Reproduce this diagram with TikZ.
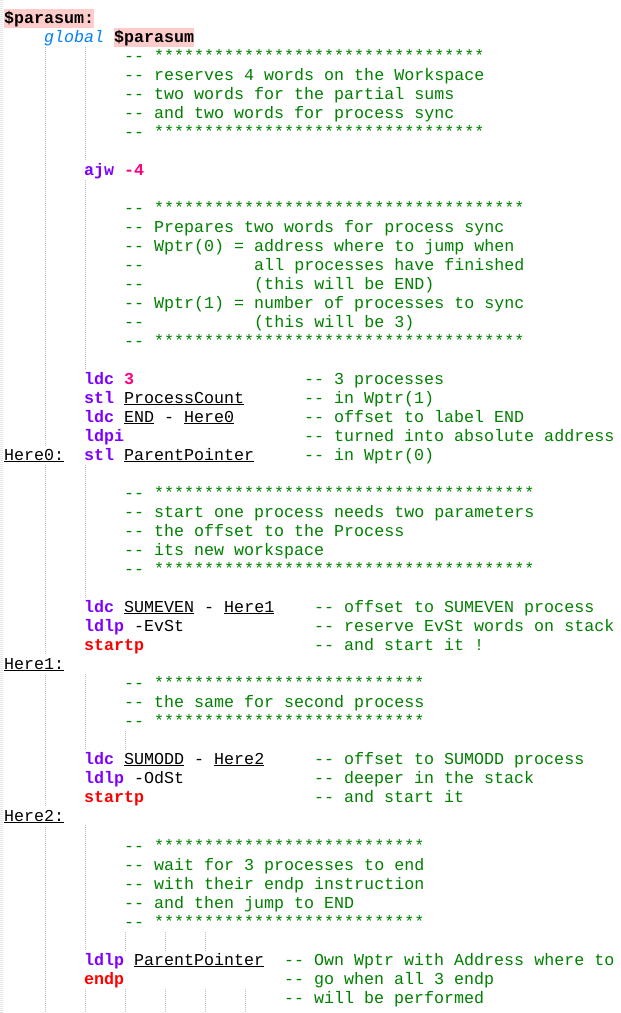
\documentclass[tikz,border=0pt]{standalone}
\usepackage{fontspec}
\setmonofont{Liberation Mono}
\usepackage{tikz}

\definecolor{kwpurple}{RGB}{128,0,255}
\definecolor{numpink}{RGB}{255,0,128}
\definecolor{ctlred}{RGB}{255,0,0}
\definecolor{cmtgreen}{RGB}{0,128,0}
\definecolor{globblue}{RGB}{0,128,255}
\definecolor{hlpink}{RGB}{255,204,204}
\definecolor{guidegray}{RGB}{190,190,190}

\newcommand{\opc}[1]{{\bfseries\color{kwpurple}#1}}
\newcommand{\numc}[1]{{\bfseries\color{numpink}#1}}
\newcommand{\ctlc}[1]{{\bfseries\color{ctlred}#1}}
\newcommand{\idf}[1]{\underline{#1}}
\newcommand{\tenst}{**********}

\begin{document}
\begin{tikzpicture}[
    x=10pt, y=-19pt,
    code/.style={anchor=base west, inner sep=0pt, text height=14pt, text depth=5pt,
        font=\ttfamily\fontsize{16.67pt}{19pt}\selectfont\frenchspacing},
    cmt/.style={code, text=cmtgreen},
    lbl/.style={code, fill=white},
    guide/.style={draw=guidegray, line width=1pt, dash pattern=on 1pt off 1pt}
]
\fill[white] (0pt,0pt) rectangle (621pt,-1013pt);
\useasboundingbox (0pt,0pt) rectangle (621pt,-1013pt);

% Margine e guide di indentazione
\draw[draw=black!10, line width=3pt, dash pattern=on 1pt off 1pt] (1.5pt,0pt) -- (1.5pt,-1013pt);
\foreach \x/\a/\b in {45.5/47/1013, 85.5/47/161, 85.5/180/370, 85.5/465/598, 85.5/674/750,
    85.5/825/951, 85.5/989/1013, 125.5/731/750, 125.5/932/951, 125.5/989/1013,
    165.5/932/951, 165.5/989/1013, 205.5/932/951, 205.5/989/1013, 245.5/989/1013}
    \draw[guide] (\x pt,-\a pt) -- (\x pt,-\b pt);

\begin{scope}[shift={(4pt,-23pt)}]
% Intestazione
\node[code, fill=hlpink] (entry) at (0,0) {\bfseries\$parasum:};
\node[code, text=globblue] (glob) at (4,1) {\itshape global};
\node[code, fill=hlpink] (sym) at (11,1) {\bfseries\$parasum};

% Commenti a blocchi
\foreach \t [count=\i from 2] in {-- \tenst\tenst\tenst***,
    -- reserves 4 words on the Workspace, -- two words for the partial sums,
    -- and two words for process sync, -- \tenst\tenst\tenst***}
    \node[cmt] (ca\i) at (12,\i) {\t};
\foreach \t [count=\i from 10] in {-- \tenst\tenst\tenst*******,
    -- Prepares two words for process sync, -- Wptr(0) = address where to jump when,
    --~~~~~~~~~~~all processes have finished, --~~~~~~~~~~~(this will be END),
    -- Wptr(1) = number of processes to sync, --~~~~~~~~~~~(this will be 3),
    -- \tenst\tenst\tenst*******}
    \node[cmt] (cb\i) at (12,\i) {\t};
\foreach \t [count=\i from 25] in {-- \tenst\tenst\tenst********,
    -- start one process needs two parameters, -- the offset to the Process,
    -- its new workspace, -- \tenst\tenst\tenst********}
    \node[cmt] (cc\i) at (12,\i) {\t};
\foreach \t [count=\i from 35] in {-- \tenst\tenst*******,
    -- the same for second process, -- \tenst\tenst*******}
    \node[cmt] (cd\i) at (12,\i) {\t};

% Istruzioni
\node[code] (i8) at (8,8) {\opc{ajw} \numc{-4}};
\node[code] (i19) at (8,19) {\opc{ldc} \numc{3}};
\node[code] (i20) at (8,20) {\opc{stl} \idf{ProcessCount}};
\node[code] (i21) at (8,21) {\opc{ldc} \idf{END} - \idf{Here0}};
\node[code] (i22) at (8,22) {\opc{ldpi}};
\node[code] (i23) at (8,23) {\opc{stl} \idf{ParentPointer}};
\node[cmt] (n19) at (30,19) {-- 3 processes};
\node[cmt] (n20) at (30,20) {-- in Wptr(1)};
\node[cmt] (n21) at (30,21) {-- offset to label END};
\node[cmt] (n22) at (30,22) {-- turned into absolute address};
\node[cmt] (n23) at (30,23) {-- in Wptr(0)};

\node[code] (i31) at (8,31) {\opc{ldc} \idf{SUMEVEN} - \idf{Here1}};
\node[code] (i32) at (8,32) {\opc{ldlp} -EvSt};
\node[code] (i33) at (8,33) {\ctlc{startp}};
\node[cmt] (n31) at (31,31) {-- offset to SUMEVEN process};
\node[cmt] (n32) at (31,32) {-- reserve EvSt words on stack};
\node[cmt] (n33) at (31,33) {-- and start it !};

\node[code] (i39) at (8,39) {\opc{ldc} \idf{SUMODD} - \idf{Here2}};
\node[code] (i40) at (8,40) {\opc{ldlp} -OdSt};
\node[code] (i41) at (8,41) {\ctlc{startp}};
\node[cmt] (n39) at (31,39) {-- offset to SUMODD process};
\node[cmt] (n40) at (31,40) {-- deeper in the stack};
\node[cmt] (n41) at (31,41) {-- and start it};

% Etichette
\node[lbl] (here0) at (0,23) {\idf{Here0:}};
\node[lbl] (here1) at (0,34) {\idf{Here1:}};
\node[lbl] (here2) at (0,42) {\idf{Here2:}};
\end{scope}

\begin{scope}[shift={(4pt,-34pt)}]
\foreach \t [count=\i from 43] in {-- \tenst\tenst*******,
    -- wait for 3 processes to end, -- with their endp instruction,
    -- and then jump to END, -- \tenst\tenst*******}
    \node[cmt] (ce\i) at (12,\i) {\t};
\node[code] (i49) at (8,49) {\opc{ldlp} \idf{ParentPointer}};
\node[code] (i50) at (8,50) {\ctlc{endp}};
\node[cmt] (n49) at (28,49) {-- Own Wptr with Address where to};
\node[cmt] (n50) at (28,50) {-- go when all 3 endp};
\node[cmt] (n51) at (28,51) {-- will be performed};
\end{scope}
\end{tikzpicture}
\end{document}
